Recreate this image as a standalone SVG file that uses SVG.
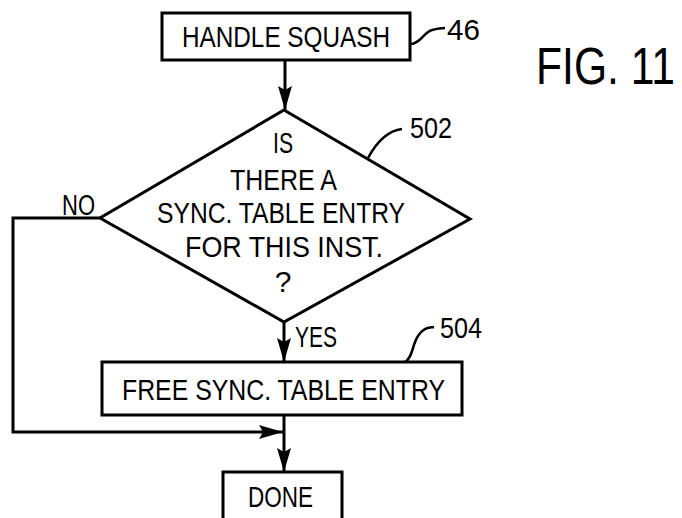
<svg xmlns="http://www.w3.org/2000/svg" width="682" height="518" viewBox="0 0 682 518">
<style>
.box{fill:#fff;stroke:#000;stroke-width:3}
.ln{fill:none;stroke:#000;stroke-width:3}
.ld{fill:none;stroke:#000;stroke-width:2.5}
text{font-family:"Liberation Sans",Arial,sans-serif;font-size:30px;fill:#000;text-anchor:middle}
</style>
<defs>
<marker id="ah" markerUnits="userSpaceOnUse" markerWidth="26" markerHeight="16" refX="24" refY="7" orient="auto">
<path d="M0,0 L24,7 L0,14 L4,7 Z" fill="#000"/>
</marker>
</defs>
<rect width="682" height="518" fill="#fff"/>
<g id="connectors">
<path class="ln" d="M285,60 V110" marker-end="url(#ah)"/>
<path class="ln" d="M284,322 V362" marker-end="url(#ah)"/>
<path class="ln" d="M100,218 H13 V432 H283" marker-end="url(#ah)"/>
<path class="ln" d="M284,415 V472" marker-end="url(#ah)"/>
<text x="78.5" y="215" textLength="33" lengthAdjust="spacingAndGlyphs">NO</text>
<text x="316" y="347" textLength="42" lengthAdjust="spacingAndGlyphs">YES</text>
</g>
<g id="n46">
<rect class="box" x="162" y="13" width="248" height="47"/>
<text x="286" y="47" textLength="208" lengthAdjust="spacingAndGlyphs">HANDLE SQUASH</text>
<path class="ld" d="M410,44 C420,44 424,32 432,30 S441,28 445,28"/>
<text x="463.5" y="40" textLength="33" lengthAdjust="spacingAndGlyphs">46</text>
</g>
<g id="n502">
<polygon class="box" points="284,110 470,219 284,322 100,218"/>
<text x="283" y="153" textLength="20" lengthAdjust="spacingAndGlyphs">IS</text>
<text x="283.5" y="190" textLength="107" lengthAdjust="spacingAndGlyphs">THERE A</text>
<text x="281" y="223" textLength="248" lengthAdjust="spacingAndGlyphs">SYNC. TABLE ENTRY</text>
<text x="284" y="257" textLength="198" lengthAdjust="spacingAndGlyphs">FOR THIS INST.</text>
<text x="283" y="292">?</text>
<path class="ld" d="M368,158 C375,145 385,131 402,129"/>
<text x="431" y="138" textLength="42" lengthAdjust="spacingAndGlyphs">502</text>
</g>
<g id="n504">
<rect class="box" x="102" y="362" width="360" height="53"/>
<text x="283.5" y="400" textLength="323" lengthAdjust="spacingAndGlyphs">FREE SYNC. TABLE ENTRY</text>
<path class="ld" d="M405,362 C413,357 412,345 418,336 S428,328 434,327"/>
<text x="461" y="338" textLength="42" lengthAdjust="spacingAndGlyphs">504</text>
</g>
<g id="done">
<rect class="box" x="223" y="472" width="119" height="60"/>
<text x="280.5" y="507" textLength="65" lengthAdjust="spacingAndGlyphs">DONE</text>
</g>
<g id="fig">
<text transform="translate(675,84) scale(0.82,1)" x="0" y="0" style="font-size:52px;text-anchor:end">FIG. 11</text>
</g>
</svg>
